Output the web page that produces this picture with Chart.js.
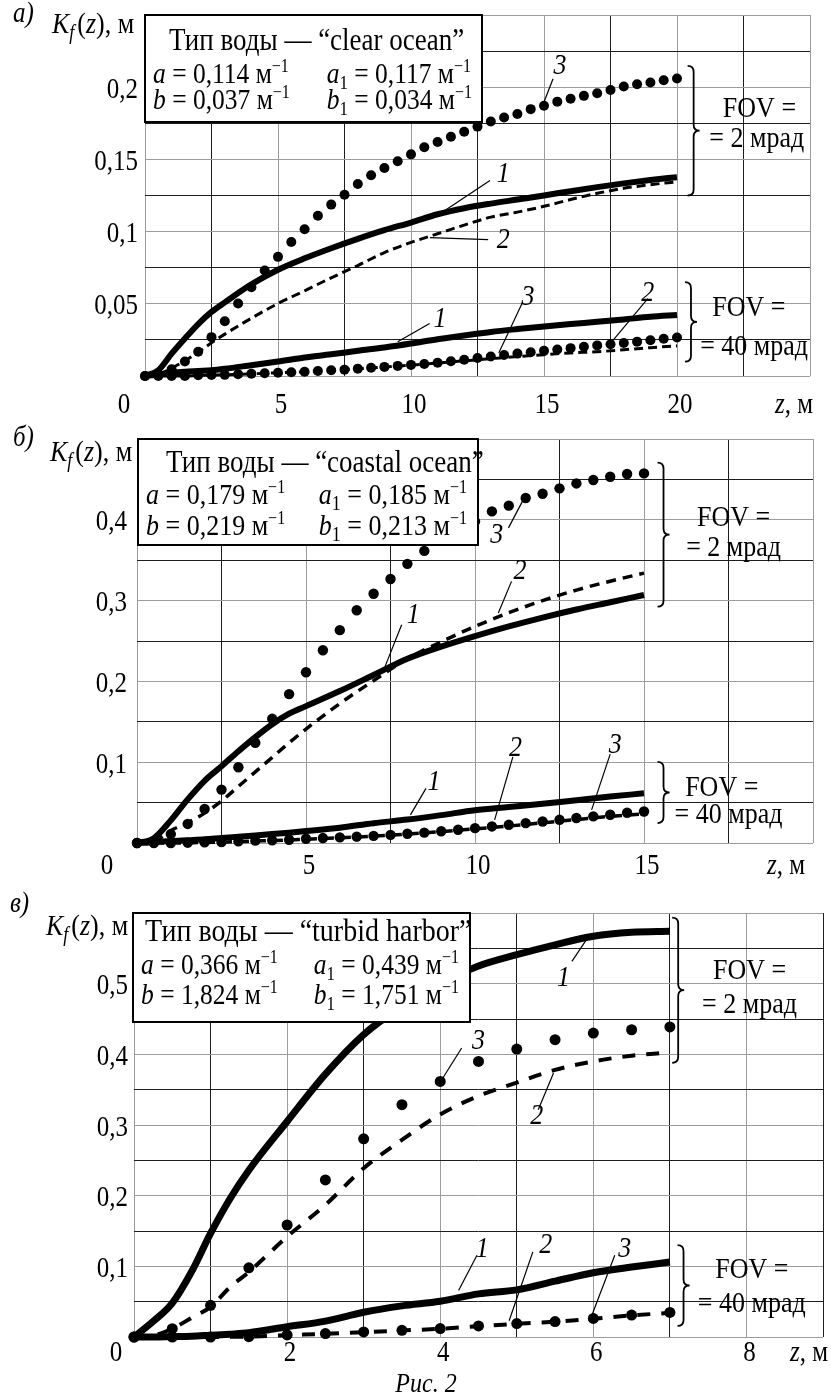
<!DOCTYPE html>
<html>
<head>
<meta charset="utf-8">
<script src="https://cdn.jsdelivr.net/npm/chart.js@4.4.1/dist/chart.umd.min.js"></script>
<style>
body { margin: 0; background: #fff; }
#wrap { position: relative; width: 831px; height: 1398px; }
canvas { position: absolute; left: 0; }
</style>
</head>
<body>
<div id="wrap">
<canvas id="ca" width="831" height="420" style="top:0px"></canvas>
<canvas id="cb" width="831" height="465" style="top:420px"></canvas>
<canvas id="cc" width="831" height="513" style="top:885px"></canvas>
</div>
<script>
// ---- панель а) clear ocean ----
const zLineA = [0, 0.5, 1, 1.5, 2, 2.5, 3, 4, 5, 6, 7, 8, 9, 10, 11, 12, 13, 14, 15, 16, 17, 18, 19, 20];
const zDotA = [0, 0.5, 1, 1.5, 2, 2.5, 3, 3.5, 4, 4.5, 5, 5.5, 6, 6.5, 7, 7.5, 8, 8.5, 9, 9.5, 10,
  10.5, 11, 11.5, 12, 12.5, 13, 13.5, 14, 14.5, 15, 15.5, 16, 16.5, 17, 17.5, 18, 18.5, 19, 19.5, 20];
const a2mrad1 = [0, 0.004, 0.0155, 0.026, 0.036, 0.0444, 0.051, 0.0635, 0.0736, 0.0815, 0.0885, 0.095,
  0.101, 0.1063, 0.112, 0.1162, 0.1194, 0.1222, 0.125, 0.128, 0.1308, 0.1334, 0.1357, 0.1377];
const a2mrad2 = [0, 0.001, 0.0055, 0.0105, 0.0165, 0.023, 0.029, 0.040, 0.0502, 0.059, 0.068, 0.0765,
  0.0855, 0.0925, 0.0985, 0.1045, 0.11, 0.1135, 0.1175, 0.1222, 0.1265, 0.13, 0.1325, 0.1345];
const a2mrad3 = [0, 0.001, 0.0047, 0.010, 0.0168, 0.0269, 0.0379, 0.0502, 0.0614, 0.0731, 0.0825, 0.0928,
  0.1016, 0.111, 0.1187, 0.1255, 0.133, 0.139, 0.144, 0.1487, 0.1535, 0.1584, 0.162, 0.1657, 0.1692,
  0.1727, 0.1762, 0.179, 0.1815, 0.1848, 0.1872, 0.19, 0.192, 0.194, 0.1958, 0.198, 0.2005, 0.202,
  0.2033, 0.2048, 0.206];
const a40mrad1 = [0, 0.001, 0.0022, 0.003, 0.0035, 0.004, 0.005, 0.0075, 0.010, 0.0128, 0.015, 0.0175,
  0.0198, 0.0225, 0.0255, 0.028, 0.0305, 0.0325, 0.0343, 0.036, 0.0375, 0.0392, 0.041, 0.0423];
const a40mrad2 = [0, 0, 0, 0, 0.0004, 0.0006, 0.0008, 0.0015, 0.0022, 0.003, 0.0039, 0.005, 0.0062,
  0.0075, 0.009, 0.0105, 0.012, 0.0135, 0.0148, 0.016, 0.0168, 0.0182, 0.0196, 0.0209];
const a40mrad3 = [0, 0, 0, 0, 0.0005, 0.0007, 0.0008, 0.0012, 0.0016, 0.0019, 0.0023, 0.0026, 0.003,
  0.0035, 0.004, 0.0044, 0.0051, 0.0057, 0.0063, 0.007, 0.0077, 0.0083, 0.0092, 0.0102, 0.0113, 0.0125,
  0.0135, 0.0145, 0.0155, 0.0165, 0.0174, 0.0184, 0.0193, 0.0203, 0.0212, 0.022, 0.0229, 0.0238,
  0.0248, 0.0258, 0.0267];
const aXTicks = [5, 10, 15, 20];
const aYTicks = [0.05, 0.1, 0.15, 0.2];

// ---- панель б) coastal ocean ----
const zLineB = [0, 0.5, 1, 1.5, 2, 2.5, 3, 3.5, 4, 4.5, 5, 6, 7, 8, 9, 10, 11, 12, 13, 14, 15];
const zDotB = [0, 0.5, 1, 1.5, 2, 2.5, 3, 3.5, 4, 4.5, 5, 5.5, 6, 6.5, 7, 7.5, 8, 8.5, 9, 9.5, 10,
  10.5, 11, 11.5, 12, 12.5, 13, 13.5, 14, 14.5, 15];
const b2mrad1 = [0, 0.006, 0.028, 0.054, 0.077, 0.095, 0.1135, 0.131, 0.147, 0.16, 0.1694, 0.188, 0.208,
  0.228, 0.243, 0.256, 0.268, 0.279, 0.289, 0.298, 0.307];
const b2mrad2 = [0, 0.002, 0.0155, 0.025, 0.037, 0.052, 0.070, 0.088, 0.106, 0.124, 0.141, 0.1725, 0.201,
  0.228, 0.249, 0.268, 0.285, 0.300, 0.313, 0.324, 0.334];
const b2mrad3 = [0, 0.002, 0.011, 0.0236, 0.0421, 0.0661, 0.0938, 0.124, 0.1537, 0.1843, 0.2113, 0.2386,
  0.2634, 0.288, 0.3085, 0.3267, 0.3455, 0.3615, 0.376, 0.388, 0.398, 0.4104, 0.4175, 0.427, 0.4323,
  0.4389, 0.445, 0.4493, 0.4533, 0.4567, 0.4574];
const b40mrad1 = [0, 0.001, 0.0025, 0.0035, 0.0045, 0.0062, 0.0078, 0.0094, 0.011, 0.0128, 0.0148, 0.019,
  0.0245, 0.029, 0.0345, 0.0405, 0.0445, 0.0485, 0.053, 0.0575, 0.0615];
const b40mrad2 = [0, 0, 0, 0.0003, 0.0006, 0.001, 0.0017, 0.0024, 0.003, 0.0037, 0.0047, 0.0065, 0.0085,
  0.011, 0.014, 0.0175, 0.021, 0.025, 0.029, 0.033, 0.036];
const b40mrad3 = [0, 0, 0, 0.0004, 0.0008, 0.0012, 0.002, 0.0029, 0.0033, 0.004, 0.0053, 0.0061, 0.007,
  0.0078, 0.0088, 0.01, 0.0115, 0.0128, 0.0145, 0.0164, 0.0184, 0.0205, 0.0225, 0.0246, 0.0266, 0.0287,
  0.031, 0.033, 0.035, 0.0375, 0.039];
const bXTicks = [5, 10, 15];
const bYTicks = [0.1, 0.2, 0.3, 0.4];

// ---- панель в) turbid harbor ----
const zLineC = [0, 0.25, 0.5, 0.75, 1, 1.25, 1.5, 2, 2.5, 3, 3.5, 4, 4.5, 5, 5.5, 6, 6.5, 7];
const zDotC = [0, 0.5, 1, 1.5, 2, 2.5, 3, 3.5, 4, 4.5, 5, 5.5, 6, 6.5, 7];
const c2mrad1 = [0, 0.022, 0.048, 0.092, 0.1466, 0.195, 0.236, 0.305, 0.372, 0.428, 0.468, 0.50, 0.525,
  0.541, 0.555, 0.567, 0.5727, 0.5741];
const c2mrad2 = [0, 0.002, 0.0118, 0.027, 0.0426, 0.07, 0.092, 0.1419, 0.187, 0.2389, 0.279, 0.315, 0.341,
  0.36, 0.378, 0.39, 0.398, 0.4027];
const c2mrad3 = [0, 0.0118, 0.0449, 0.0979, 0.1585, 0.2223, 0.2805, 0.3288, 0.3617, 0.39, 0.4075, 0.4207,
  0.4301, 0.4348, 0.4387];
const c40mrad1 = [0, 0, 0.0005, 0.001, 0.0025, 0.004, 0.006, 0.0145, 0.0225, 0.035, 0.044, 0.0505, 0.061,
  0.0667, 0.079, 0.091, 0.099, 0.106];
const c40mrad2 = [0, 0, 0, 0, 0, 0.0002, 0.0005, 0.0026, 0.0045, 0.0068, 0.0092, 0.0117, 0.0152, 0.0186,
  0.0216, 0.0258, 0.0305, 0.0342];
const c40mrad3 = [0, 0, 0, 0.0005, 0.0029, 0.0048, 0.0071, 0.0095, 0.0119, 0.0157, 0.019, 0.0219, 0.0262,
  0.031, 0.0348];
const cXTicks = [2, 4, 6, 8];
const cYTicks = [0.1, 0.2, 0.3, 0.4, 0.5];

const SERIF = '"Liberation Serif", "Times New Roman", serif';
const STRETCH = 1.15; // шрифт на оригинале вытянут по вертикали

function setFont(ctx, size, italic) {
  ctx.font = (italic ? 'italic ' : '') + size + 'px ' + SERIF;
}

function put(ctx, t, x, y) {
  ctx.save();
  ctx.translate(x, y);
  ctx.scale(1, STRETCH);
  ctx.fillText(t, 0, 0);
  ctx.restore();
}

// текст из кусков: i - курсив, b - нижний индекс, p - верхний индекс
function drawRuns(ctx, list, x, y, size, noDraw) {
  let cx = x;
  ctx.textAlign = 'left';
  ctx.textBaseline = 'alphabetic';
  list.forEach(function (r) {
    const t = r[0], f = r[1] || '';
    let s = size, dy = 0, extra = 0;
    if (f.includes('b')) { s = Math.round(size * 0.68); dy = size * 0.22; extra = f.includes('i') ? 3 : 0; }
    if (f.includes('p')) { s = Math.round(size * 0.62); dy = -size * 0.42; }
    setFont(ctx, s, f.includes('i'));
    if (!noDraw) put(ctx, t, cx, y + dy);
    cx += ctx.measureText(t).width + extra;
  });
  return cx - x;
}

function fmt(v) {
  return String(+v.toFixed(3)).replace('.', ',');
}

function drawBrace(ctx, x, y1, y2, r) {
  const m = (y1 + y2) / 2;
  ctx.beginPath();
  ctx.moveTo(x, y1);
  ctx.quadraticCurveTo(x + r, y1, x + r, y1 + r);
  ctx.lineTo(x + r, m - r);
  ctx.quadraticCurveTo(x + r, m, x + 2 * r, m);
  ctx.quadraticCurveTo(x + r, m, x + r, m + r);
  ctx.lineTo(x + r, y2 - r);
  ctx.quadraticCurveTo(x + r, y2, x, y2);
  ctx.stroke();
}

const decor = {
  id: 'decor',
  afterDatasetsDraw(chart, args, o) {
    const ctx = chart.ctx, xs = chart.scales.x, ys = chart.scales.y, a = chart.chartArea;
    const X = v => xs.getPixelForValue(v), Y = v => ys.getPixelForValue(v);
    ctx.save();
    ctx.fillStyle = '#000';
    ctx.strokeStyle = '#000';

    // подписи осей
    setFont(ctx, 25, false);
    ctx.textBaseline = 'middle';
    ctx.textAlign = 'right';
    o.yTicks.forEach(v => put(ctx, fmt(v), a.left - o.yGap, Y(v) + 3));
    ctx.textAlign = 'center';
    o.xTicks.forEach(v => put(ctx, fmt(v), X(v) + 3, a.bottom + o.xDy));
    put(ctx, '0', o.zeroX, a.bottom + o.xDy);
    drawRuns(ctx, [['z', 'i'], [', м']], o.zLabelX, a.bottom + o.xDy + 8, 25);
    setFont(ctx, 25, true);
    put(ctx, o.tag, o.tagPos[0], o.tagPos[1]);
    drawRuns(ctx, [['K', 'i'], ['f', 'ib'], ['('], ['z', 'i'], ['), м']], o.kPos[0], o.kPos[1], 26);
    if (o.caption) {
      setFont(ctx, 24, true);
      ctx.textAlign = 'center';
      put(ctx, o.caption[0], o.caption[1], o.caption[2]);
    }

    // рамка с параметрами воды
    const b = o.box;
    ctx.fillStyle = '#fff';
    ctx.fillRect(b.x, b.y, b.w, b.h);
    ctx.lineWidth = 2;
    ctx.strokeRect(b.x, b.y, b.w, b.h);
    ctx.fillStyle = '#000';
    drawRuns(ctx, [['Тип воды — “' + b.title + '”']], b.x + b.tx, b.y + b.rows[0], b.titleSize);
    const r1 = [['a', 'i'], [' = ' + b.vals[0] + ' м'], ['−1', 'p']];
    const r2 = [['a', 'i'], ['1', 'b'], [' = ' + b.vals[1] + ' м'], ['−1', 'p']];
    const r3 = [['b', 'i'], [' = ' + b.vals[2] + ' м'], ['−1', 'p']];
    const r4 = [['b', 'i'], ['1', 'b'], [' = ' + b.vals[3] + ' м'], ['−1', 'p']];
    const c2 = b.x + b.w - 11 - drawRuns(ctx, r2, 0, 0, b.rowSize, true);
    drawRuns(ctx, r1, b.x + 8, b.y + b.rows[1], b.rowSize);
    drawRuns(ctx, r2, c2, b.y + b.rows[1], b.rowSize);
    drawRuns(ctx, r3, b.x + 8, b.y + b.rows[2], b.rowSize);
    drawRuns(ctx, r4, c2, b.y + b.rows[2], b.rowSize);

    // выноски 1, 2, 3
    ctx.lineWidth = 1.2;
    o.leaders.forEach(function (l) {
      ctx.beginPath();
      ctx.moveTo(X(l[3]), Y(l[4]));
      ctx.lineTo(X(l[5]), Y(l[6]));
      ctx.stroke();
      setFont(ctx, 26, true);
      ctx.textAlign = 'center';
      ctx.textBaseline = 'middle';
      put(ctx, l[0], X(l[1]), Y(l[2]));
    });

    // фигурные скобки и FOV
    ctx.lineWidth = 1.8;
    o.braces.forEach(br => drawBrace(ctx, X(br[0]), Y(br[1]), Y(br[2]), 6));
    setFont(ctx, 26, false);
    ctx.textAlign = 'center';
    ctx.textBaseline = 'middle';
    o.fov.forEach(f => put(ctx, f[0], X(f[1]), Y(f[2])));
    ctx.restore();
  }
};

function pts(zs, vs) {
  return zs.map((z, i) => ({ x: z, y: vs[i] }));
}
function solid(zs, vs, w) {
  return { data: pts(zs, vs), borderColor: '#000', borderWidth: w, pointRadius: 0,
    cubicInterpolationMode: 'monotone', clip: false, fill: false };
}
function dashed(zs, vs, w, dash) {
  return { data: pts(zs, vs), borderColor: '#000', borderWidth: w, borderDash: dash, pointRadius: 0,
    cubicInterpolationMode: 'monotone', clip: false, fill: false };
}
function dots(zs, vs, r) {
  return { data: pts(zs, vs), showLine: false, pointRadius: r, pointHoverRadius: r,
    pointBackgroundColor: '#000', pointBorderWidth: 0, clip: false };
}

function gridColor(c) {
  return c.index % 2 ? '#1e1e1e' : '#9c9c9c';
}

function makeChart(id, p) {
  new Chart(document.getElementById(id), {
    type: 'line',
    data: { datasets: p.datasets },
    options: {
      responsive: false,
      animation: false,
      devicePixelRatio: 1,
      events: [],
      layout: { padding: { top: p.top, right: p.right, left: 0, bottom: 0 } },
      scales: {
        x: {
          type: 'linear', min: 0, max: p.xMax,
          ticks: { display: false, stepSize: p.xStep },
          grid: { color: gridColor, lineWidth: 1, drawTicks: false },
          border: { display: false },
          afterFit: s => { s.height = p.bottom; }
        },
        y: {
          type: 'linear', min: 0, max: p.yMax,
          ticks: { display: false, stepSize: p.yStep },
          grid: { color: gridColor, lineWidth: 1, drawTicks: false },
          border: { display: false },
          afterFit: s => { s.width = p.left; }
        }
      },
      plugins: { legend: { display: false }, tooltip: { enabled: false }, decor: p.decor }
    },
    plugins: [decor]
  });
}

makeChart('ca', {
  left: 145, top: 15, right: 21, bottom: 44,
  xMax: 25, xStep: 2.5, yMax: 0.25, yStep: 0.025,
  datasets: [
    dots(zDotA, a2mrad3, 5), dots(zDotA, a40mrad3, 5),
    solid(zLineA, a2mrad1, 6), dashed(zLineA, a2mrad2, 3, [9, 5]),
    solid(zLineA, a40mrad1, 6), dashed(zLineA, a40mrad2, 3, [9, 5])
  ],
  decor: {
    yTicks: aYTicks, xTicks: aXTicks, yGap: 7, xDy: 29, zeroX: 124, zLabelX: 775,
    tag: 'а)', tagPos: [13, 22], kPos: [52, 33],
    box: { x: 145, y: 15, w: 337, h: 107, title: 'clear ocean', titleSize: 27, tx: 24, rows: [35, 68, 94],
      rowSize: 25.5, vals: ['0,114', '0,117', '0,037', '0,034'] },
    leaders: [
      ['3', 15.6, 0.2148, 15.34, 0.2058, 14.96, 0.1878],
      ['1', 13.47, 0.14, 12.97, 0.1354, 11.09, 0.1124],
      ['2', 13.47, 0.0939, 12.9, 0.0944, 10.71, 0.0958],
      ['1', 11.09, 0.0394, 10.7, 0.0364, 9.5, 0.0237],
      ['3', 14.4, 0.0548, 14.2, 0.0513, 13.3, 0.0159],
      ['2', 18.9, 0.0573, 18.9, 0.0536, 17.5, 0.0226]
    ],
    braces: [[20.4, 0.2148, 0.125], [20.3, 0.065, 0.0099]],
    fov: [['FOV =', 23.1, 0.185], ['= 2 мрад', 23.0, 0.164], ['FOV =', 22.7, 0.0467], ['= 40 мрад', 22.9, 0.0203]]
  }
});

makeChart('cb', {
  left: 137, top: 19, right: 18, bottom: 42,
  xMax: 20, xStep: 2.5, yMax: 0.5, yStep: 0.05,
  datasets: [
    dots(zDotB, b2mrad3, 5.2), dots(zDotB, b40mrad3, 5.2),
    solid(zLineB, b2mrad1, 6), dashed(zLineB, b2mrad2, 3.5, [10, 7]),
    solid(zLineB, b40mrad1, 6), dashed(zLineB, b40mrad2, 3.5, [10, 7])
  ],
  decor: {
    yTicks: bYTicks, xTicks: bXTicks, yGap: 10, xDy: 23, zeroX: 107, zLabelX: 767,
    tag: 'б)', tagPos: [13, 26], kPos: [50, 41],
    box: { x: 138, y: 19, w: 340, h: 106, title: 'coastal ocean', titleSize: 27, tx: 28, rows: [33, 65, 96],
      rowSize: 26, vals: ['0,179', '0,185', '0,219', '0,213'] },
    leaders: [
      ['3', 10.64, 0.3816, 10.99, 0.39, 11.43, 0.425],
      ['2', 11.33, 0.336, 11.08, 0.3238, 10.69, 0.2847],
      ['1', 8.17, 0.2826, 7.83, 0.2702, 7.34, 0.2186],
      ['1', 8.79, 0.0758, 8.55, 0.0676, 8.09, 0.0348],
      ['2', 11.2, 0.1168, 11.12, 0.1066, 10.58, 0.0287],
      ['3', 14.15, 0.121, 14.0, 0.11, 13.45, 0.041]
    ],
    braces: [[15.4, 0.4707, 0.2925], [15.4, 0.1004, 0.0246]],
    fov: [['FOV =', 17.65, 0.4026], ['= 2 мрад', 17.65, 0.3655], ['FOV =', 17.3, 0.0676], ['= 40 мрад', 17.5, 0.0348]]
  }
});

makeChart('cc', {
  left: 134, top: 28, right: 8, bottom: 61,
  xMax: 9, xStep: 1, yMax: 0.6, yStep: 0.05,
  datasets: [
    dots(zDotC, c2mrad3, 5.5), dots(zDotC, c40mrad3, 5.5),
    solid(zLineC, c2mrad1, 7), dashed(zLineC, c2mrad2, 4, [13, 11]),
    solid(zLineC, c40mrad1, 7), dashed(zLineC, c40mrad2, 4, [13, 11])
  ],
  decor: {
    yTicks: cYTicks, xTicks: cXTicks, yGap: 6, xDy: 16, zeroX: 116, zLabelX: 790,
    tag: 'в)', tagPos: [10, 27], kPos: [46, 50],
    caption: ['Рис. 2', 426, 507],
    box: { x: 133, y: 28, w: 337, h: 109, title: 'turbid harbor', titleSize: 28, tx: 12, rows: [28, 61, 91],
      rowSize: 25.5, vals: ['0,366', '0,439', '1,824', '1,751'] },
    leaders: [
      ['1', 5.61, 0.508, 5.72, 0.5316, 5.91, 0.5623],
      ['3', 4.5, 0.4183, 4.28, 0.409, 4.02, 0.364],
      ['2', 5.26, 0.312, 5.28, 0.3215, 5.48, 0.3735],
      ['1', 4.55, 0.125, 4.48, 0.1157, 4.24, 0.0657],
      ['2', 5.38, 0.13, 5.21, 0.1205, 4.9, 0.0229],
      ['3', 6.41, 0.125, 6.28, 0.1157, 5.97, 0.0276]
    ],
    braces: [[7.03, 0.5935, 0.388], [7.1, 0.13, 0.0157]],
    fov: [['FOV =', 8.04, 0.5175], ['= 2 мрад', 8.04, 0.47], ['FOV =', 8.07, 0.094], ['= 40 мрад', 8.07, 0.0467]]
  }
});
</script>
</body>
</html>
